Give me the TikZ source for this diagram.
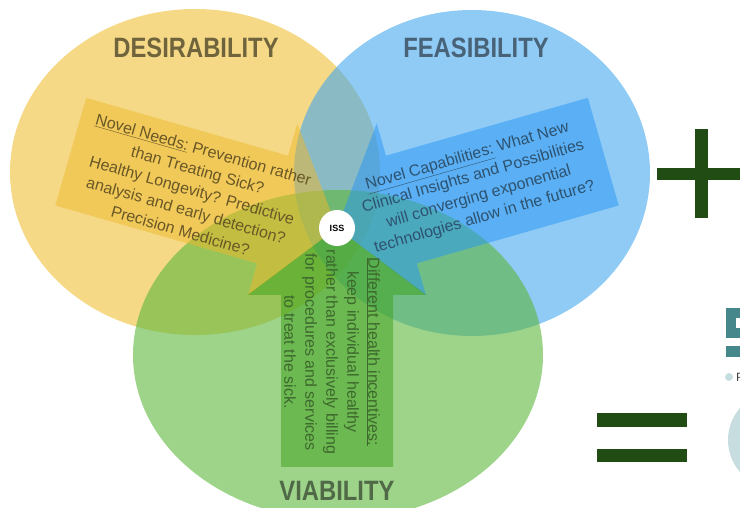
\documentclass[tikz,border=0pt]{standalone}
\usepackage{fontspec}
\setmainfont{Liberation Sans}
\usepackage{tikz}
\definecolor{yellowfill}{RGB}{238,192,55}
\definecolor{bluefill}{RGB}{68,168,238}
\definecolor{greenfill}{RGB}{93,183,60}
\definecolor{yellowarrow}{RGB}{238,185,45}
\definecolor{bluearrow}{RGB}{40,150,245}
\definecolor{greenarrow}{RGB}{62,160,25}
\definecolor{yellowtext}{RGB}{105,88,38}
\definecolor{bluetext}{RGB}{45,82,112}
\definecolor{greentext}{RGB}{60,104,45}
\definecolor{desirtext}{RGB}{112,100,60}
\definecolor{feastext}{RGB}{72,98,120}
\definecolor{viabtext}{RGB}{80,105,70}
\definecolor{signgreen}{RGB}{33,77,20}
\definecolor{tealbox}{RGB}{69,135,138}
\definecolor{paleteal}{RGB}{200,221,224}
\tikzset{venn/.style={fill opacity=0.6}}
\tikzset{title/.style={font=\fontsize{28}{30}\selectfont\bfseries}}
\tikzset{arrowtext/.style={font=\fontsize{16}{21}\selectfont,
                           align=center,inner sep=0pt}}
\tikzset{hub/.style={circle,fill=white,minimum size=36pt,inner sep=0pt,
                     font=\fontsize{9}{10}\selectfont\bfseries}}
\newcommand{\fatarrow}[2]{\fill[#2,fill opacity=0.5] (0,0) -- (-67,89.5) --
                          (-67,56) -- (-#1,56) -- (-#1,-56) --
                          (-67,-56) -- (-67,-89.5) -- cycle;}

\begin{document}
\begin{tikzpicture}[x=1pt,y=1pt]
    \useasboundingbox (0,0) rectangle (740,508);
    \clip (0,0) rectangle (740,508);
    % Circles
    \fill[venn,yellowfill] (195,336) ellipse [x radius=185,y radius=163];
    \fill[venn,bluefill] (472,335) ellipse [x radius=178,y radius=163];
    \fill[venn,greenfill] (338,153) ellipse [x radius=205,y radius=165];
    % Arrows
    \begin{scope}[shift={(337,280)},rotate=-16]
      \fatarrow{277}{yellowarrow}
    \end{scope}
    \begin{scope}[shift={(337,280)},rotate=196]
      \fatarrow{277}{bluearrow}
    \end{scope}
    \begin{scope}[shift={(337,280)},rotate=90]
      \fatarrow{239}{greenarrow}
    \end{scope}
    % Labels
    \node[title,text=desirtext] (desir) at (196,460) {\scalebox{0.85}[1]{DESIRABILITY}};
    \node[title,text=feastext] (feas) at (476,460) {\scalebox{0.85}[1]{FEASIBILITY}};
    \node[title,text=viabtext] (viab) at (337,17) {\scalebox{0.85}[1]{VIABILITY}};
    \node[arrowtext,text=yellowtext,rotate=-16] (needs) at (192,318)
         {\underline{Novel Needs:} Prevention rather\\than Treating Sick?\\
          Healthy Longevity? Predictive\\analysis and early detection?\\
          Precision Medicine?};
    \node[arrowtext,text=bluetext,rotate=16] (capab) at (476,321)
         {\underline{Novel Capabilities:} What New\\
          Clinical Insights and Possibilities\\will converging exponential\\
          technologies allow in the future?};
    \node[arrowtext,text=greentext,rotate=-90] (incent) at (332,156)
         {\underline{Different health incentives:}\\keep individual healthy\\
          rather than exclusively billing\\for procedures and services\\
          to treat the sick.};
    \node[hub] (iss) at (337,280) {ISS};
    % Plus and equals
    \fill[signgreen] (695,290) rectangle (708,379);
    \fill[signgreen] (657,328) rectangle (745,340);
    \fill[signgreen] (597,81) rectangle (687,95);
    \fill[signgreen] (597,46) rectangle (687,59);
    % Cut-off pieces at the right edge
    \fill[tealbox] (726,170) rectangle (745,200);
    \fill[white] (736,180) rectangle (745,190);
    \fill[tealbox] (726,151) rectangle (745,162);
    \fill[paleteal] (729,131) circle [radius=4];
    \node[anchor=west,inner sep=0pt,text=black!75,
          font=\fontsize{12}{12}\selectfont] (cut) at (736,131) {P};
    \fill[paleteal] (777,68) circle [radius=49];
\end{tikzpicture}
\end{document}
